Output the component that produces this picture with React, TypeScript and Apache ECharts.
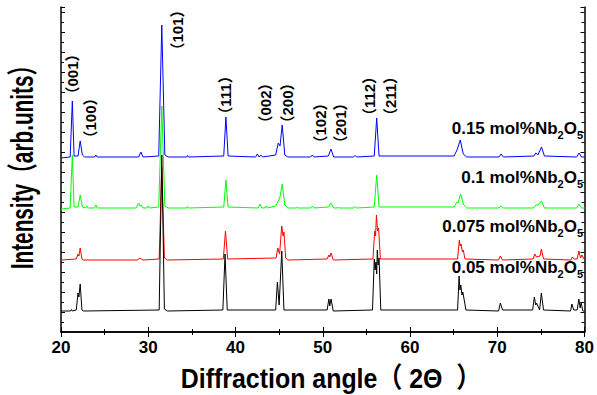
import React, { useEffect, useRef } from "react";
import * as echarts from "echarts";

// 2θ (deg), intensity (arb.)
const sample015: number[][] = [
  [20, 174], [21.05, 175], [21.3, 231], [21.5, 176], [21.95, 176], [22.2, 191], [22.45, 177], [22.7, 175],
  [23.85, 175], [24.0, 177], [24.15, 175], [28.9, 175], [29.15, 180], [29.4, 175], [31.2, 176], [31.55, 307],
  [31.9, 177], [32.3, 175], [34.4, 175], [34.5, 176.5], [34.6, 175], [38.65, 176], [38.9, 215], [39.15, 176],
  [42.3, 175], [42.5, 178], [42.7, 175], [42.9, 177], [43.1, 175], [44.6, 177], [44.9, 189], [45.1, 186],
  [45.35, 207], [45.65, 177], [46.0, 175], [48.6, 175], [48.8, 177], [49.0, 175], [50.65, 176], [50.93, 183],
  [51.25, 175], [53.5, 175], [53.7, 176.5], [53.9, 175], [55.9, 176], [56.18, 214], [56.45, 176], [65.05, 176],
  [65.38, 182], [65.76, 192], [66.1, 178], [66.5, 175], [70.2, 175], [70.43, 178], [70.7, 175], [74.2, 176],
  [74.42, 179], [74.65, 177], [75.07, 185], [75.4, 176], [79.1, 175], [79.37, 179], [79.65, 175], [80, 175],
];
const sample010: number[][] = [
  [20, 123], [21.05, 124], [21.3, 177], [21.5, 125], [21.95, 125], [22.2, 137], [22.45, 125], [22.8, 124],
  [22.95, 126], [23.1, 124], [23.85, 124], [24.0, 127], [24.15, 124], [28.6, 124], [28.9, 129], [29.05, 126],
  [29.2, 127], [29.4, 124], [29.85, 124], [30.0, 126], [30.15, 124], [31.2, 125], [31.55, 226], [31.9, 126],
  [32.3, 124], [34.4, 124], [34.5, 125.5], [34.6, 124], [38.65, 125], [38.9, 152], [39.15, 125], [42.6, 124],
  [42.8, 128], [43.0, 124], [43.35, 124], [43.5, 126], [43.65, 124], [44.6, 126], [44.9, 131], [45.1, 135],
  [45.35, 148], [45.65, 127], [46.0, 124], [46.9, 124], [47.0, 125], [47.1, 124], [48.6, 124], [48.8, 126],
  [49.0, 124], [50.65, 125], [50.93, 129], [51.25, 124], [51.7, 124], [51.8, 125], [51.9, 124], [53.5, 124],
  [53.7, 125.5], [53.9, 124], [55.9, 125], [56.18, 157], [56.45, 125], [65.05, 125], [65.38, 130], [65.5, 129],
  [65.8, 138], [66.15, 127], [66.5, 124], [70.2, 124], [70.43, 126], [70.7, 124], [74.15, 124], [74.42, 127],
  [74.65, 127], [75.07, 131], [75.4, 124], [79.1, 124], [79.37, 128], [79.65, 124], [80, 124],
];
const sample0075: number[][] = [
  [20, 72], [21.75, 73], [21.95, 78], [22.05, 76], [22.2, 84], [22.4, 73], [22.6, 72], [28.8, 72], [29.0, 74],
  [29.2, 73], [29.4, 72], [31.25, 73], [31.55, 165], [31.85, 74], [32.2, 72], [38.6, 73], [38.85, 101],
  [39.1, 73], [44.65, 74], [44.85, 84], [45.05, 78], [45.3, 106], [45.45, 96], [45.55, 100], [45.75, 74],
  [46.0, 72], [50.5, 73], [50.7, 77], [50.8, 75], [50.95, 79], [51.2, 72], [55.75, 73], [55.95, 101],
  [56.05, 96], [56.15, 117], [56.28, 101], [56.4, 104], [56.6, 73], [65.45, 73], [65.65, 92], [65.75, 86],
  [65.85, 88], [66.0, 80], [66.1, 82], [66.3, 73], [70.15, 72], [70.35, 76], [70.6, 72], [74.1, 73],
  [74.3, 78], [74.5, 75], [74.9, 76], [75.05, 83], [75.3, 73], [78.45, 72], [78.6, 75], [78.8, 73],
  [79.15, 73], [79.35, 81], [79.55, 74], [79.7, 77], [80, 72],
];
const sample005: number[][] = [
  [20, 21], [21.1, 21], [21.2, 22.5], [21.3, 21], [21.75, 22], [21.95, 39], [22.05, 35], [22.2, 48],
  [22.4, 22], [22.6, 21], [31.25, 22], [31.55, 177], [31.85, 23], [32.2, 21], [38.55, 22], [38.8, 78],
  [39.05, 22], [44.6, 22], [44.8, 50], [45.0, 27], [45.3, 81], [45.55, 22], [50.5, 22], [50.7, 33],
  [50.8, 26], [50.95, 33], [51.2, 21], [55.7, 22], [55.9, 73], [56.0, 62], [56.1, 70], [56.18, 58],
  [56.25, 82], [56.35, 67], [56.45, 74], [56.65, 22], [65.45, 22], [65.62, 56], [65.72, 42], [65.82, 47],
  [65.95, 37], [66.05, 40], [66.25, 30], [66.4, 22], [70.15, 21], [70.35, 29], [70.6, 22], [74.05, 22],
  [74.25, 35], [74.4, 27], [74.5, 29], [74.85, 22], [75.05, 39], [75.3, 22], [78.4, 21], [78.55, 28],
  [78.75, 22], [79.15, 22], [79.35, 33], [79.5, 24], [79.6, 30], [79.8, 21], [80, 21],
];

const seriesNames = ["0.15 mol%Nb2O5", "0.1 mol%Nb2O5", "0.075 mol%Nb2O5", "0.05 mol%Nb2O5"];
const seriesPrefixes = ["0.15 mol%Nb", "0.1 mol%Nb", "0.075 mol%Nb", "0.05 mol%Nb"];
const seriesColors = ["#0000ff", "#00ff00", "#ff0000", "#000000"];
const seriesData = [sample015, sample010, sample0075, sample005];

const xTicks = [20, 30, 40, 50, 60, 70, 80];
const peakLabels = ["（001）", "（100）", "（101）", "（111）", "（002）", "（200）", "（102）", "（201）", "（112）", "（211）"];

const xTitle = "Diffraction angle（ 2Θ  ）";
const yTitle = "Intensity（arb.units）";

// layout (pixels)
const peakLabelPos = [
  [72, 74], [90, 118], [177, 30], [225, 95], [265, 103], [287, 103], [320, 123], [340, 123], [369, 96], [390, 96],
];
const seriesLabelY = [130, 179, 228, 269];

const FONT = "'Liberation Sans', Arial, 'Noto Sans CJK SC', sans-serif";

export default function App() {
  const ref = useRef<HTMLDivElement>(null);
  useEffect(() => {
    if (!ref.current) return;
    const chart = echarts.init(ref.current, undefined, { renderer: "svg" });
    const axisLine = { show: true, lineStyle: { color: "#000", width: 1.5 } };
    const xCommon = {
      type: "value" as const,
      min: xTicks[0],
      max: xTicks[xTicks.length - 1],
      interval: 10,
      axisLine,
      axisTick: { show: true, inside: true, length: 5, lineStyle: { color: "#000", width: 1 } },
      minorTick: { show: true, splitNumber: 2, length: 3, lineStyle: { color: "#000", width: 1 } },
      splitLine: { show: false },
    };
    const yCommon = {
      type: "value" as const,
      min: 0,
      max: 325,
      interval: 20,
      axisLine,
      axisLabel: { show: false },
      axisTick: { show: true, inside: true, length: 4, lineStyle: { color: "#000", width: 1 } },
      minorTick: { show: true, splitNumber: 2, length: 3, lineStyle: { color: "#000", width: 1 } },
      splitLine: { show: false },
    };
    const graphic: any[] = [];
    graphic.push({
      type: "text",
      x: 331,
      y: 378,
      scaleX: 0.89,
      style: {
        text: xTitle, fontSize: 28, fontWeight: "bold", fontFamily: FONT, fill: "#000",
        align: "center", verticalAlign: "middle",
      },
    });
    graphic.push({
      type: "text",
      x: 22,
      y: 162,
      rotation: Math.PI / 2,
      scaleX: 0.67,
      style: {
        text: yTitle, fontSize: 31, fontWeight: "bold", fontFamily: FONT, fill: "#000",
        align: "center", verticalAlign: "middle",
      },
    });
    peakLabels.forEach((t, i) => {
      graphic.push({
        type: "text",
        x: peakLabelPos[i][0],
        y: peakLabelPos[i][1],
        rotation: Math.PI / 2,
        style: {
          text: t, fontSize: 15, fontWeight: "bold", fontFamily: FONT, fill: "#000",
          align: "center", verticalAlign: "middle",
        },
      });
    });
    seriesPrefixes.forEach((p, i) => {
      graphic.push({
        type: "text",
        x: 583,
        y: seriesLabelY[i],
        style: {
          text: `{a|${p}}{s|2}{a|O}{s|5}`,
          align: "right",
          verticalAlign: "middle",
          fontFamily: FONT,
          rich: {
            a: { fontSize: 17, fontWeight: "bold", fontFamily: FONT, fill: "#000", lineHeight: 20, verticalAlign: "top" },
            s: { fontSize: 11, fontWeight: "bold", fontFamily: FONT, fill: "#000", lineHeight: 8, verticalAlign: "bottom" },
          },
        },
      });
    });

    chart.setOption({
      animation: false,
      backgroundColor: "#fff",
      grid: { left: 61, right: 10, top: 7, bottom: 63 },
      xAxis: [
        {
          ...xCommon,
          position: "bottom",
          axisLabel: { show: true, fontSize: 17, fontWeight: "bold", color: "#000", fontFamily: FONT, margin: 7 },
        },
        { ...xCommon, position: "top", axisLabel: { show: false } },
      ],
      yAxis: [
        { ...yCommon, position: "left" },
        { ...yCommon, position: "right" },
      ],
      series: seriesData.map((d, i) => ({
        name: seriesNames[i],
        type: "line",
        data: d,
        xAxisIndex: 0,
        yAxisIndex: 0,
        showSymbol: false,
        symbol: "none",
        lineStyle: { color: seriesColors[i], width: 1 },
        z: 2 + i,
      })),
      graphic,
    });
    return () => chart.dispose();
  }, []);
  return <div ref={ref} style={{ position: "fixed", left: 0, top: 0, width: 597, height: 395 }} />;
}
